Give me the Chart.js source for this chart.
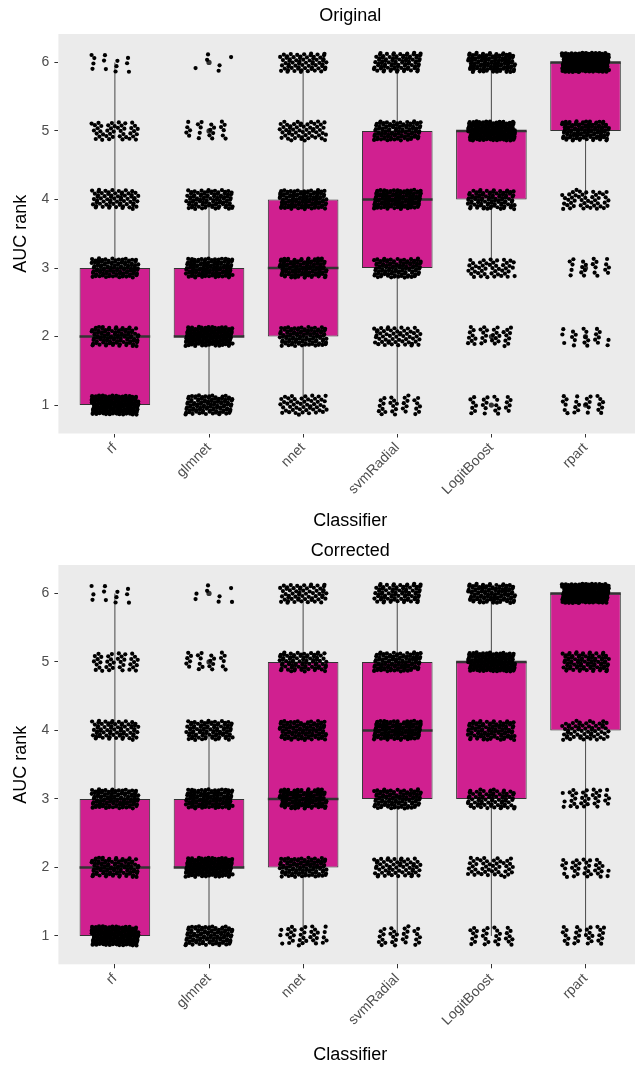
<!DOCTYPE html>
<html>
<head>
<meta charset="utf-8">
<script src="https://cdn.jsdelivr.net/npm/chart.js@4.4.1/dist/chart.umd.min.js"></script>
<style>
  html, body { margin: 0; padding: 0; background: #fff; overflow: hidden; }
  #wrap { width: 635px; height: 1066px; overflow: hidden; }
  canvas { display: block; }
</style>
</head>
<body>
<div id="wrap">
  <canvas id="chartOriginal" width="646" height="533"></canvas>
  <canvas id="chartCorrected" width="646" height="533"></canvas>
</div>
<script>
const classifiers = ['rf', 'glmnet', 'nnet', 'svmRadial', 'LogitBoost', 'rpart'];
const rankTicks = [1, 2, 3, 4, 5, 6];

// points per rank (1..6), one row per classifier
const origCounts = [
  [180, 95, 105, 65, 42, 13],
  [100, 155, 125, 92, 22, 6],
  [50, 100, 115, 115, 55, 65],
  [30, 55, 100, 130, 100, 85],
  [25, 35, 45, 90, 185, 120],
  [25, 22, 22, 45, 110, 276]
];
const origQ1 = [1, 2, 2, 3, 4, 5];
const origMedian = [2, 2, 3, 4, 5, 6];
const origQ3 = [3, 3, 4, 5, 5, 6];
const origLow = [1, 1, 1, 1, 3, 4];
const origHigh = [6, 4, 6, 6, 6, 6];

const corrCounts = [
  [175, 95, 110, 70, 38, 12],
  [100, 155, 125, 88, 24, 8],
  [35, 100, 125, 100, 80, 60],
  [30, 60, 100, 125, 105, 80],
  [30, 45, 75, 95, 150, 105],
  [30, 35, 35, 60, 85, 255]
];
const corrQ1 = [1, 2, 2, 3, 3, 4];
const corrMedian = [2, 2, 3, 4, 5, 6];
const corrQ3 = [3, 3, 5, 5, 5, 6];
const corrLow = [1, 1, 1, 1, 1, 1];
const corrHigh = [6, 4, 6, 6, 6, 6];

const BOX_FILL = '#D02090';
const JIT_W = 0.25;   // horizontal jitter half-width (display only)
const JIT_H = 0.14;   // vertical jitter half-height (display only)

Chart.defaults.font.family = "'Liberation Sans', Arial, Helvetica, sans-serif";

// evenly spread (non random) display offsets for the jittered points
function jitterPoints(counts) {
  const a1 = 0.7548776662466927, a2 = 0.5698402909980532;
  const pts = [];
  counts.forEach((row, i) => {
    row.forEach((n, r) => {
      for (let k = 0; k < n; k++) {
        const s = k + 1 + (i * 6 + r) * 41;
        const u = (0.5 + a1 * s) % 1;
        const v = (0.5 + a2 * s) % 1;
        pts.push({ x: i + (u - 0.5) * 2 * JIT_W, y: rankTicks[r] + (v - 0.5) * 2 * JIT_H });
      }
    });
  });
  return pts;
}

function outliers(counts, low, high) {
  const pts = [];
  counts.forEach((row, i) => {
    row.forEach((n, r) => {
      const v = rankTicks[r];
      if (n > 0 && (v < low[i] || v > high[i])) pts.push({ x: i, y: v });
    });
  });
  return pts;
}

function segments(list) {
  const out = [];
  list.forEach((s) => {
    out.push({ x: s[0], y: s[1] }, { x: s[2], y: s[3] }, { x: s[2], y: null });
  });
  return out;
}

const panelBg = {
  id: 'panelBg',
  beforeDraw(chart) {
    const a = chart.chartArea;
    const ctx = chart.ctx;
    ctx.save();
    ctx.fillStyle = '#EBEBEB';
    ctx.fillRect(a.left, a.top, a.right - a.left, a.bottom - a.top);
    ctx.restore();
  }
};

function makePanel(id, title, counts, q1, med, q3, low, high, lay) {
  const half = 0.375;
  const whiskers = [];
  classifiers.forEach((_c, i) => {
    if (high[i] > q3[i]) whiskers.push([i, q3[i], i, high[i]]);
    if (low[i] < q1[i]) whiskers.push([i, low[i], i, q1[i]]);
  });
  const medians = classifiers.map((_c, i) => [i - half, med[i], i + half, med[i]]);

  new Chart(document.getElementById(id).getContext('2d'), {
    type: 'bar',
    data: {
      datasets: [
        {
          type: 'scatter',
          data: jitterPoints(counts),
          pointRadius: 2.1,
          pointBackgroundColor: '#000',
          pointBorderWidth: 0,
          order: 0
        },
        {
          type: 'scatter',
          data: outliers(counts, low, high),
          pointRadius: 2.6,
          pointBackgroundColor: '#333333',
          pointBorderWidth: 0,
          order: 1
        },
        {
          type: 'line',
          data: segments(medians),
          borderColor: '#333333',
          borderWidth: 2.5,
          pointRadius: 0,
          spanGaps: false,
          order: 2
        },
        {
          type: 'line',
          data: segments(whiskers),
          borderColor: '#555555',
          borderWidth: 1.1,
          pointRadius: 0,
          spanGaps: false,
          order: 4
        },
        {
          type: 'bar',
          data: classifiers.map((_c, i) => ({ x: i, y: [q1[i], q3[i]] })),
          backgroundColor: BOX_FILL,
          borderColor: '#333333',
          borderWidth: 1,
          borderSkipped: false,
          barPercentage: 0.75,
          categoryPercentage: 1,
          order: 3
        }
      ]
    },
    options: {
      responsive: false,
      animation: false,
      layout: { padding: 0 },
      plugins: {
        legend: { display: false },
        tooltip: { enabled: false },
        title: {
          display: true,
          text: title,
          fullSize: false,
          color: '#000',
          font: { size: 18, weight: 'normal' },
          padding: lay.titlePad
        }
      },
      scales: {
        x: {
          type: 'linear',
          min: -0.6,
          max: 5.6,
          offset: false,
          afterBuildTicks: (s) => { s.ticks = classifiers.map((_c, i) => ({ value: i })); },
          afterFit: (s) => { s.height = lay.xHeight; },
          ticks: {
            autoSkip: false,
            minRotation: 45,
            maxRotation: 45,
            padding: 2,
            color: '#4D4D4D',
            font: { size: 14 },
            callback: (v) => classifiers[v]
          },
          grid: { display: true, offset: false, drawOnChartArea: false, drawTicks: true, tickLength: 4, tickColor: '#333333' },
          border: { display: false },
          title: {
            display: true,
            text: 'Classifier',
            color: '#000',
            font: { size: 18 },
            padding: { top: 0, bottom: lay.xTitlePad }
          }
        },
        y: {
          type: 'linear',
          min: 0.585,
          max: 6.415,
          afterBuildTicks: (s) => { s.ticks = rankTicks.map((v) => ({ value: v })); },
          afterFit: (s) => { s.width = 58.4; },
          ticks: {
            padding: 5,
            color: '#4D4D4D',
            font: { size: 14 }
          },
          grid: { display: true, drawOnChartArea: false, drawTicks: true, tickLength: 4, tickColor: '#333333' },
          border: { display: false },
          title: {
            display: true,
            text: 'AUC rank',
            color: '#000',
            font: { size: 18 },
            padding: { top: 10, bottom: 0 }
          }
        }
      }
    },
    plugins: [panelBg]
  });
}

makePanel('chartOriginal', 'Original', origCounts, origQ1, origMedian, origQ3, origLow, origHigh,
  { titlePad: { top: 5.2, bottom: 7.2 }, xHeight: 99.5, xTitlePad: 1.2 });
makePanel('chartCorrected', 'Corrected', corrCounts, corrQ1, corrMedian, corrQ3, corrLow, corrHigh,
  { titlePad: { top: 7.2, bottom: 3.2 }, xHeight: 101.7, xTitlePad: 0.2 });
</script>
</body>
</html>
